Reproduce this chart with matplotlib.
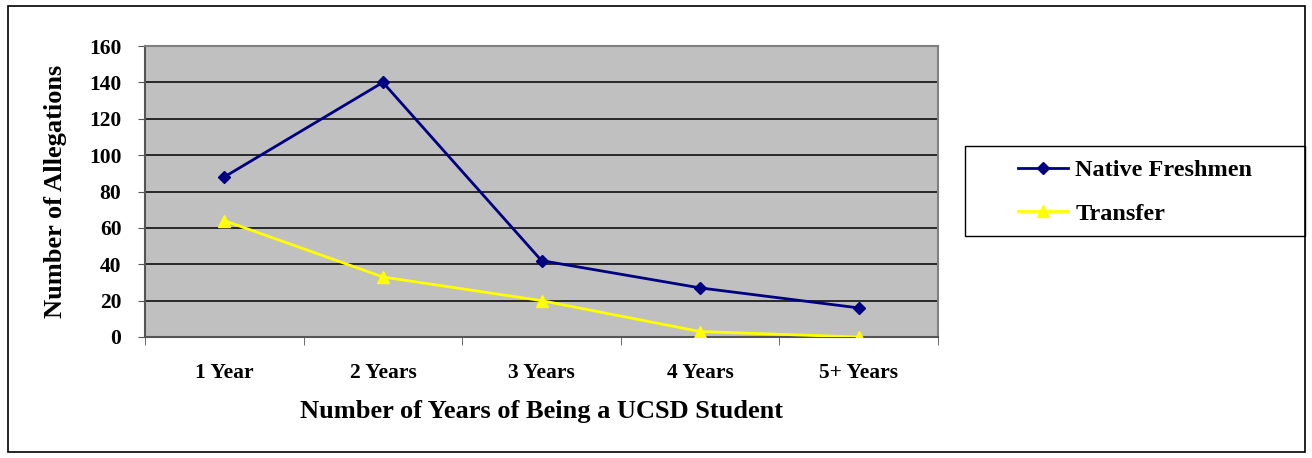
import matplotlib
matplotlib.use('Agg')
import matplotlib.pyplot as plt
from matplotlib.patches import Rectangle
import numpy as np

categories = ['1 Year', '2 Years', '3 Years', '4 Years', '5+ Years']
native_freshmen = [88, 140, 42, 27, 16]
transfer = [64, 33, 20, 3, 0]
y_ticks = [0, 20, 40, 60, 80, 100, 120, 140, 160]

plt.rcParams['font.family'] = ['Liberation Serif', 'DejaVu Serif']
plt.rcParams['font.weight'] = 'bold'

W, H = 1312, 458
fig = plt.figure(figsize=(W / 100, H / 100), dpi=100)
ax = fig.add_axes([145/W, 1-337/H, (938-145)/W, (337-46)/H])

# outer chart border
fig.patches.append(Rectangle((8/W, 1-452/H), (1305-8)/W, (452-6)/H,
                             transform=fig.transFigure, fill=False,
                             edgecolor='black', linewidth=1.2))
# legend box
fig.patches.append(Rectangle((965/W, 1-236/H), (1305-965)/W, (236-146)/H,
                             transform=fig.transFigure, fill=False,
                             edgecolor='black', linewidth=1))

ax.set_facecolor('#C0C0C0')
x = np.arange(len(categories))

ax.set_ylim(0, 160)
ax.set_xlim(-0.5, len(categories) - 0.5)
ax.set_yticks(y_ticks)
for yv in y_ticks[1:-1]:
    ax.axhline(yv, color='black', linewidth=1.1, zorder=1)

ax.plot(x, native_freshmen, color='#000080', marker='D', markersize=6,
        linewidth=2, label='Native Freshmen', zorder=3)
ax.plot(x, transfer, color='#FFFF00', marker='^', markersize=8,
        linewidth=2, label='Transfer', zorder=3)

for s in ax.spines.values():
    s.set_color('#808080')
    s.set_linewidth(1.5)
ax.spines['left'].set_color('#555555')
ax.spines['bottom'].set_color('#555555')

ax.set_xticks(x)
ax.set_xticklabels(categories, fontsize=15.5, fontweight='bold')
ax.set_xticks(np.arange(-0.5, len(categories)), minor=True)
ax.tick_params(axis='x', which='major', length=0, pad=19)
ax.tick_params(axis='x', which='minor', length=6, direction='out', color='#555555')
ax.tick_params(axis='y', length=5, direction='out', color='#555555', labelsize=15.5, pad=12)
for lbl in ax.get_yticklabels():
    lbl.set_fontweight('bold')

ax.set_xlabel('Number of Years of Being a UCSD Student', fontsize=19,
              fontweight='bold', labelpad=12)
ax.set_ylabel('Number of Allegations', fontsize=19, fontweight='bold', labelpad=16)

leg = fig.legend(loc='center left', bbox_to_anchor=(1018/W, 1-192/H),
                 frameon=False, fontsize=17.5, handlelength=2.06,
                 borderpad=0, labelspacing=0.9, handletextpad=0.3,
                 borderaxespad=0)
for t in leg.get_texts():
    t.set_fontweight('bold')

fig.savefig('out.png', dpi=100)
plt.close()
